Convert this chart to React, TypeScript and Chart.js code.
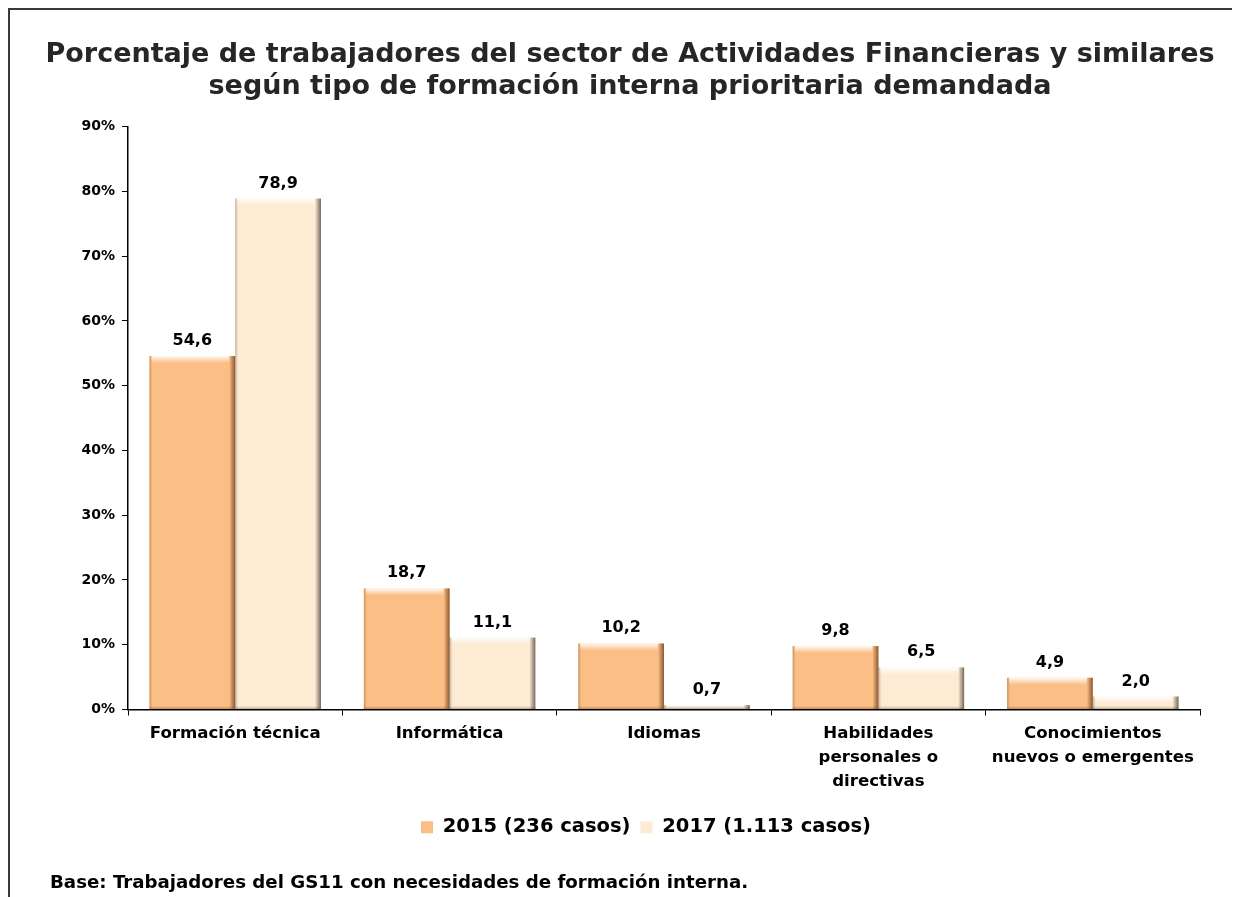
import React, { useEffect, useRef } from "react";
import { Chart, registerables } from "chart.js";

Chart.register(...registerables);

const categories: (string | string[])[] = [
  "Formación técnica",
  "Informática",
  "Idiomas",
  ["Habilidades", "personales o", "directivas"],
  ["Conocimientos", "nuevos o emergentes"],
];
const series2015 = [54.6, 18.7, 10.2, 9.8, 4.9];
const series2017 = [78.9, 11.1, 0.7, 6.5, 2.0];
const seriesLabels = ["2015 (236 casos)", "2017 (1.113 casos)"];
const titleLines = [
  "Porcentaje de trabajadores del sector de Actividades Financieras y similares",
  "según tipo de formación interna prioritaria demandada",
];
const footerText = "Base: Trabajadores del GS11 con necesidades de formación interna.";

const FONT = "'DejaVu Sans', Verdana, sans-serif";
const fmt = (v: number) => v.toFixed(1).replace(".", ",");

const shadowColors = ["rgba(120,70,35,", "rgba(95,80,70,"];

const bevelPlugin = {
  id: "bevel",
  afterLayout(chart: any) {
    const lg = chart.legend;
    if (lg) {
      lg.left += 16;
      lg.right += 16;
    }
    const tb = chart.titleBlock;
    if (tb) {
      tb.left -= 25;
      tb.right += 25;
      tb.width = tb.right - tb.left;
    }
  },
  afterDatasetsDraw(chart: any) {
    const ctx = chart.ctx as CanvasRenderingContext2D;
    chart.data.datasets.forEach((ds: any, di: number) => {
      const meta = chart.getDatasetMeta(di);
      meta.data.forEach((bar: any, i: number) => {
        const { x, y, base, width } = bar.getProps(["x", "y", "base", "width"], true);
        const left = x - width / 2;
        const right = x + width / 2;
        const top = Math.min(y, base);
        const h = Math.abs(base - y);
        ctx.save();
        const sw = Math.min(6, width / 4);
        const g1 = ctx.createLinearGradient(right - sw, 0, right, 0);
        g1.addColorStop(0, shadowColors[di] + "0)");
        g1.addColorStop(1, shadowColors[di] + "0.85)");
        ctx.fillStyle = g1;
        ctx.fillRect(right - sw, top, sw, h);
        const g3 = ctx.createLinearGradient(left, 0, left + 3, 0);
        g3.addColorStop(0, shadowColors[di] + "0.35)");
        g3.addColorStop(1, shadowColors[di] + "0)");
        ctx.fillStyle = g3;
        ctx.fillRect(left, top, 3, h);
        const th = Math.min(7, h);
        const g2 = ctx.createLinearGradient(0, top, 0, top + th);
        g2.addColorStop(0, "rgba(255,255,255,0.9)");
        g2.addColorStop(1, "rgba(255,255,255,0)");
        ctx.fillStyle = g2;
        ctx.fillRect(left + 2, top, width - 2 - sw, th);
        const bh = Math.min(3, h);
        const g4 = ctx.createLinearGradient(0, base - bh, 0, base);
        g4.addColorStop(0, shadowColors[di] + "0)");
        g4.addColorStop(1, shadowColors[di] + "0.4)");
        ctx.fillStyle = g4;
        ctx.fillRect(left, base - bh, width, bh);
        ctx.restore();
        ctx.save();
        ctx.font = `bold 16px ${FONT}`;
        ctx.fillStyle = "#000";
        ctx.textAlign = "center";
        ctx.textBaseline = "alphabetic";
        ctx.fillText(fmt(ds.data[i]), x, top - 11);
        ctx.restore();
      });
    });
  },
};

const footerPlugin = {
  id: "footerText",
  afterDraw(chart: any) {
    const ctx = chart.ctx as CanvasRenderingContext2D;
    ctx.save();
    ctx.font = `bold 18.2px ${FONT}`;
    ctx.fillStyle = "#000";
    ctx.textAlign = "left";
    ctx.textBaseline = "alphabetic";
    ctx.fillText(footerText, 40, chart.height - 9);
    ctx.restore();
  },
};

export default function App() {
  const ref = useRef<HTMLCanvasElement>(null);
  useEffect(() => {
    document.documentElement.style.overflow = "hidden";
    document.body.style.overflow = "hidden";
    if (!ref.current) return;
    const chart = new Chart(ref.current, {
      type: "bar",
      data: {
        labels: categories,
        datasets: [
          {
            label: seriesLabels[0],
            data: series2015,
            backgroundColor: "#FBBE84",
            borderWidth: 0,
          },
          {
            label: seriesLabels[1],
            data: series2017,
            backgroundColor: "#FDEBD3",
            borderWidth: 0,
          },
        ],
      },
      options: {
        animation: false,
        responsive: false,
        maintainAspectRatio: false,
        layout: { padding: { left: 50, right: 40, top: 0, bottom: 50 } },
        datasets: {
          bar: { barPercentage: 1, categoryPercentage: 0.8 },
        },
        plugins: {
          title: {
            display: true,
            text: titleLines,
            color: "#262626",
            font: { family: FONT, size: 27, weight: "bold", lineHeight: 1.18 },
            padding: { top: 29, bottom: 24 },
          },
          legend: {
            display: true,
            position: "bottom",
            labels: {
              boxWidth: 12,
              boxHeight: 12,
              color: "#000",
              font: { family: FONT, size: 19.5, weight: "bold" },
              padding: 10,
            },
          },
          tooltip: { enabled: false },
        },
        scales: {
          x: {
            grid: {
              offset: true,
              drawOnChartArea: false,
              drawTicks: true,
              tickLength: 6,
              color: "#000",
            },
            border: { color: "#000", width: 1.5 },
            ticks: {
              color: "#000",
              font: { family: FONT, size: 16.6, weight: "bold", lineHeight: 1.45 },
              padding: 6,
              maxRotation: 0,
              autoSkip: false,
            },
            afterFit: (s: any) => {
              s.height = 98;
            },
          },
          y: {
            min: 0,
            max: 90,
            grid: {
              drawOnChartArea: false,
              drawTicks: true,
              tickLength: 6,
              color: "#000",
            },
            border: { color: "#000", width: 1.5 },
            ticks: {
              stepSize: 10,
              color: "#000",
              font: { family: FONT, size: 14, weight: "bold" },
              padding: 7,
              callback: (v: any) => `${v}%`,
            },
            afterFit: (s: any) => {
              s.width = 68;
            },
          },
        },
      },
      plugins: [bevelPlugin, footerPlugin],
    });
    return () => chart.destroy();
  }, []);
  return (
    <div
      style={{
        position: "relative",
        width: 1232,
        height: 889,
        borderTop: "2px solid #3a3a3a",
        borderLeft: "2px solid #3a3a3a",
        boxSizing: "border-box",
        background: "#fff",
      }}
    >
      <canvas ref={ref} width={1230} height={887} style={{ display: "block" }} />
    </div>
  );
}
